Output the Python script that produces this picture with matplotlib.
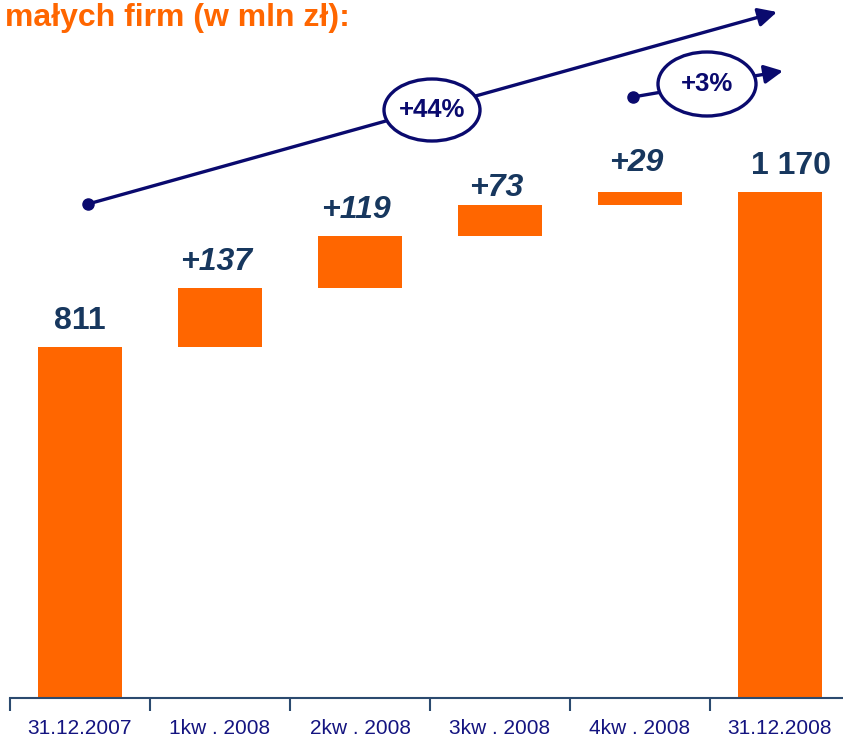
import matplotlib
matplotlib.use("Agg")
import matplotlib.pyplot as plt
from matplotlib.patches import Ellipse
import numpy as np

categories = ["31.12.2007", "1kw . 2008", "2kw . 2008", "3kw . 2008", "4kw . 2008", "31.12.2008"]
start_value = 811
increments = [137, 119, 73, 29]
end_value = 1170
value_labels = ["811", "+137", "+119", "+73", "+29", "1 170"]
growth_labels = ["+44%", "+3%"]
title = "małych firm (w mln zł):"

ORANGE = "#FF6600"
LABEL = "#17375E"
NAVY = "#0A0A6E"
TICKC = "#141480"

plt.rcParams['font.family'] = ['Liberation Sans', 'DejaVu Sans']

W, H = 843, 740
fig = plt.figure(figsize=(W / 100, H / 100), dpi=100)
ax = fig.add_axes([10 / W, 42 / H, 840 / W, 698 / H])

heights = [start_value] + increments + [end_value]
bottoms = [0] + list(np.cumsum([start_value] + increments[:-1])) + [0]
x = np.arange(len(categories))
ax.bar(x, heights, bottom=bottoms, width=0.607, color=ORANGE, zorder=2)

label_dy = [8, 8, 8, 1, 10, 8]
for i, (b, h, lab) in enumerate(zip(bottoms, heights, value_labels)):
    italic = lab.startswith("+")
    ax.annotate(lab, (x[i] - (0.03 if italic else 0) + (0.08 if i == len(x) - 1 else 0), b + h),
                xytext=(0, label_dy[i]), textcoords="offset points", ha="center", va="bottom",
                fontsize=23, fontweight="bold", style="italic" if italic else "normal",
                color=LABEL)

ax.set_xlim(-0.5, 5.5)
ax.set_ylim(0, 1613)
for s in ["left", "right", "top"]:
    ax.spines[s].set_visible(False)
ax.spines["bottom"].set_color("#2B4A6F")
ax.spines["bottom"].set_linewidth(1.5)
ax.set_yticks([])
ax.set_xticks(x)
ax.set_xticklabels(categories, fontsize=15, color=TICKC)
ax.tick_params(axis="x", which="major", length=0, pad=15)
ax.set_xticks(np.arange(-0.5, 6.0, 1.0), minor=True)
ax.tick_params(axis="x", which="minor", length=9, width=1.5, color="#2B4A6F")

# title (partially cut at top)
fig.text(5 / W, 1 - 26 / H, title, fontsize=23, fontweight="bold", color=ORANGE,
         ha="left", va="baseline")

def fp(px, py):
    return (px / W, 1 - py / H)

def growth_arrow(p0, p1, center, size, text):
    fig.add_artist(matplotlib.patches.FancyArrowPatch(
        fp(*p0), fp(*p1), transform=fig.transFigure, arrowstyle="-|>",
        mutation_scale=28, lw=2.4, color=NAVY, shrinkA=0, shrinkB=0, zorder=3))
    fig.add_artist(matplotlib.lines.Line2D([p0[0] / W], [1 - p0[1] / H], marker="o",
                                           markersize=8, color=NAVY,
                                           transform=fig.transFigure, zorder=4))
    e = Ellipse(fp(*center), size[0] / W, size[1] / H, transform=fig.transFigure,
                facecolor="white", edgecolor=NAVY, lw=2.4, zorder=5)
    fig.add_artist(e)
    fig.text(*fp(*center), text, ha="center", va="center", fontsize=18.5,
             fontweight="bold", color=NAVY, zorder=6)

growth_arrow((88, 204), (777, 12), (432, 110), (96, 62), growth_labels[0])
growth_arrow((633, 97), (783, 71), (707, 84), (98, 64), growth_labels[1])

fig.savefig("out.png", dpi=100)
